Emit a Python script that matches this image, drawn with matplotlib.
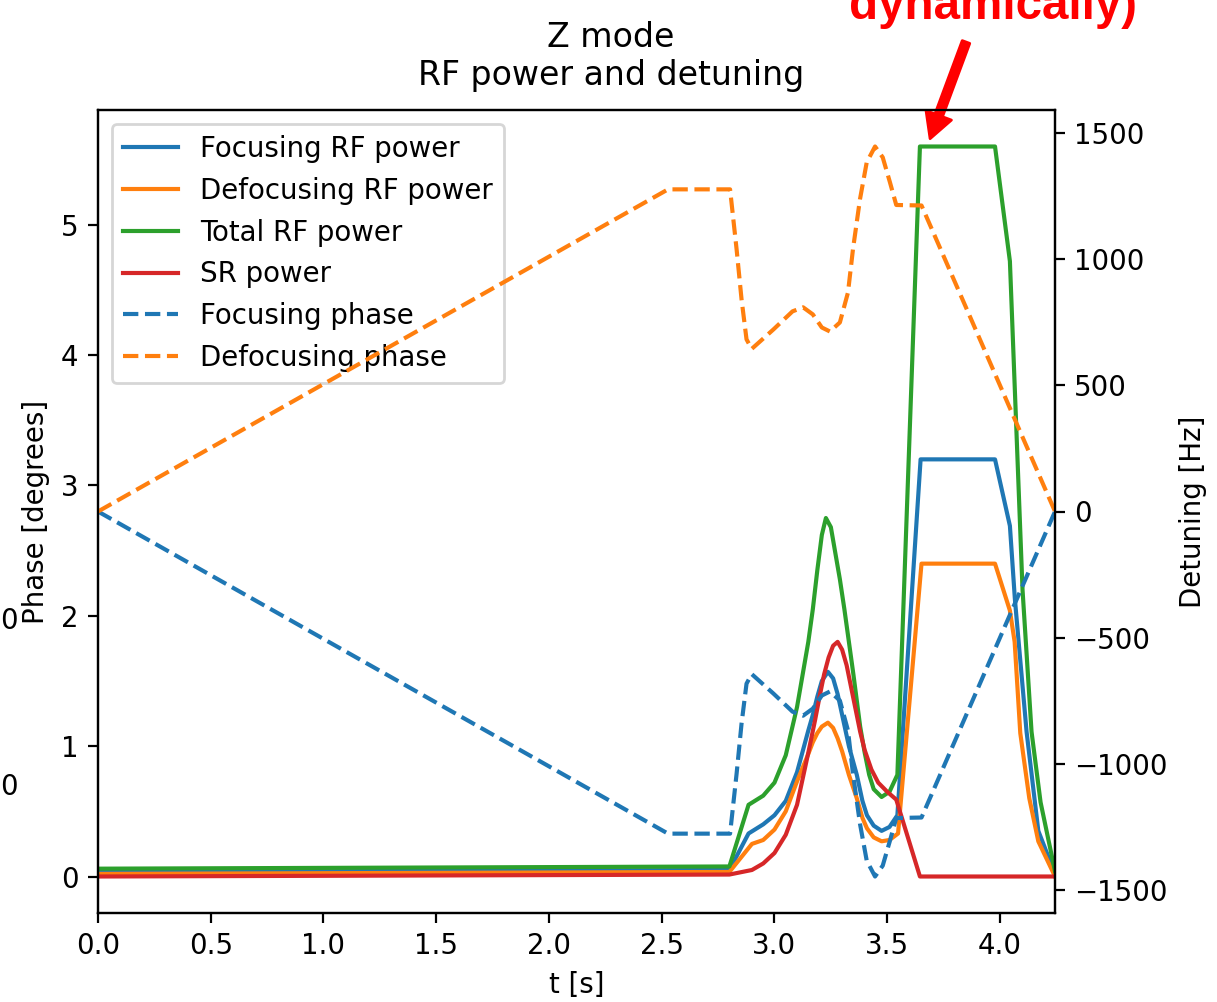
import numpy as np
import matplotlib
matplotlib.use("Agg")
import matplotlib.pyplot as plt

# RF power curves (left axis)
t_focus_pow = [0.0, 2.80, 2.885, 2.95, 3.00, 3.05, 3.10, 3.15, 3.17, 3.19, 3.21, 3.237, 3.26,
               3.28, 3.30, 3.33, 3.365, 3.39, 3.41, 3.44, 3.475, 3.51, 3.545, 3.648, 3.978,
               4.044, 4.066, 4.118, 4.17, 4.244]
focus_pow = [0.035, 0.05, 0.33, 0.40, 0.47, 0.58, 0.80, 1.12, 1.24, 1.38, 1.50, 1.57, 1.52,
             1.40, 1.24, 1.00, 0.78, 0.58, 0.47, 0.39, 0.35, 0.38, 0.47, 3.2, 3.2,
             2.69, 2.13, 1.11, 0.35, 0.02]

t_defocus_pow = [0.0, 2.80, 2.90, 2.95, 3.00, 3.05, 3.10, 3.15, 3.17, 3.19, 3.21, 3.237, 3.26,
                 3.28, 3.30, 3.33, 3.365, 3.39, 3.41, 3.44, 3.475, 3.51, 3.548, 3.652, 3.978,
                 4.044, 4.065, 4.09, 4.13, 4.17, 4.244]
defocus_pow = [0.02, 0.035, 0.25, 0.28, 0.36, 0.50, 0.73, 0.94, 1.03, 1.10, 1.15, 1.18, 1.14,
               1.06, 0.96, 0.78, 0.60, 0.45, 0.37, 0.30, 0.27, 0.28, 0.33, 2.4, 2.4,
               2.04, 1.8, 1.1, 0.6, 0.27, 0.0]

t_total_pow = [0.0, 2.80, 2.885, 2.95, 3.00, 3.05, 3.10, 3.15, 3.17, 3.19, 3.21, 3.228, 3.25,
               3.27, 3.29, 3.31, 3.33, 3.35, 3.38, 3.40, 3.42, 3.44, 3.475, 3.51, 3.545,
               3.645, 3.978, 4.044, 4.10, 4.14, 4.18, 4.244]
total_pow = [0.06, 0.077, 0.55, 0.62, 0.72, 0.93, 1.30, 1.80, 2.05, 2.35, 2.62, 2.75, 2.68,
             2.48, 2.28, 2.05, 1.80, 1.55, 1.15, 0.95, 0.78, 0.67, 0.61, 0.65, 0.78,
             5.6, 5.6, 4.72, 2.2, 1.11, 0.57, 0.04]

t_sr_pow = [0.0, 2.80, 2.90, 2.95, 3.00, 3.05, 3.10, 3.15, 3.18, 3.20, 3.22, 3.24, 3.26,
            3.28, 3.30, 3.32, 3.34, 3.36, 3.38, 3.40, 3.43, 3.46, 3.50, 3.54, 3.645, 4.244]
sr_pow = [0.0, 0.015, 0.05, 0.10, 0.18, 0.32, 0.55, 0.95, 1.20, 1.38, 1.55, 1.68, 1.77,
          1.80, 1.74, 1.62, 1.45, 1.28, 1.11, 0.97, 0.82, 0.72, 0.65, 0.59, 0.0, 0.0]

# detuning curves (right axis)
t_phase = [0.0, 2.528, 2.803, 2.832, 2.854, 2.876, 2.899, 2.995, 3.08, 3.127, 3.17, 3.21,
           3.246, 3.29, 3.326, 3.348, 3.379, 3.409, 3.446, 3.48, 3.512, 3.54, 3.652, 4.244]
focus_phase = [0, -1278, -1278, -1040, -841, -683, -645, -722, -794, -810, -782, -730,
               -714, -750, -869, -1040, -1238, -1385, -1448, -1405, -1306, -1216, -1214, 0]
defocus_phase = [0, 1278, 1278, 1040, 841, 683, 645, 722, 794, 810, 782, 730,
                 714, 750, 869, 1040, 1238, 1385, 1448, 1405, 1306, 1216, 1214, 0]

W, H, DPI = 1217, 1002, 199
fig = plt.figure(figsize=(W / DPI, H / DPI), dpi=DPI)
ax = fig.add_axes([98 / W, 1 - 913 / H, (1055 - 98) / W, (913 - 110) / H])
ax2 = ax.twinx()

l1, = ax.plot(t_focus_pow, focus_pow, color='tab:blue', label='Focusing RF power')
l2, = ax.plot(t_defocus_pow, defocus_pow, color='tab:orange', label='Defocusing RF power')
l3, = ax.plot(t_total_pow, total_pow, color='tab:green', label='Total RF power')
l4, = ax.plot(t_sr_pow, sr_pow, color='tab:red', label='SR power')
l5, = ax2.plot(t_phase, focus_phase, '--', color='tab:blue', label='Focusing phase')
l6, = ax2.plot(t_phase, defocus_phase, '--', color='tab:orange', label='Defocusing phase')

ax.set_xlim(0, 4.244)
ax.set_xlabel('t [s]')
ax.set_ylabel('Phase [degrees]')
ax2.set_ylabel('Detuning [Hz]')
ax.set_title('Z mode\nRF power and detuning', x=0.536, pad=9)

lines = [l1, l2, l3, l4, l5, l6]
ax.legend(lines, [l.get_label() for l in lines], loc='upper left')

# red note, cut at the top edge like the source image
fig.text(993 / W, 1 - 19 / H, 'dynamically)', ha='center', va='baseline',
         fontsize=17.2, fontweight='bold', color='red', family='Liberation Sans')
ax.annotate('', xy=(3.69, 5.66), xytext=(966 / W, 1 - 42 / H),
            textcoords='figure fraction', annotation_clip=False,
            arrowprops=dict(color='red', width=2.9, headwidth=9.8, headlength=9, shrink=0))

# leftover tick labels of a neighbouring panel
fig.text(0.0, 1 - 621 / H, '0', ha='left', va='center')
fig.text(0.0, 1 - 787 / H, '0', ha='left', va='center')

fig.savefig('out.png', dpi=DPI)
